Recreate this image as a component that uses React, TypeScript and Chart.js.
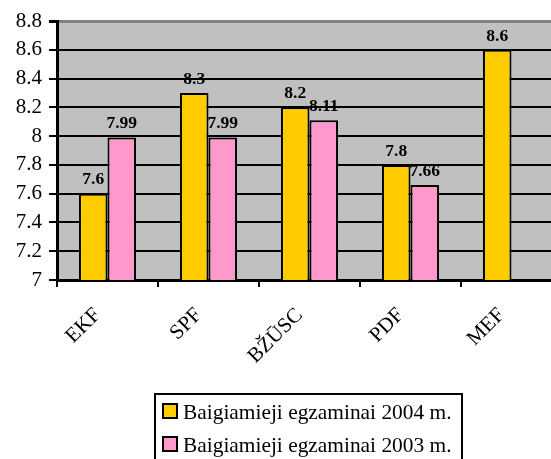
import React, { useEffect, useRef } from "react";
import { Chart, registerables } from "chart.js";

Chart.register(...registerables);

const categories = ["EKF", "SPF", "BŽŪSC", "PDF", "MEF"];
const series2004 = [7.6, 8.3, 8.2, 7.8, 8.6];
const series2003: (number | null)[] = [7.99, 7.99, 8.11, 7.66, null];
const label2004 = "Baigiamieji egzaminai 2004 m.";
const label2003 = "Baigiamieji egzaminai 2003 m.";
const yTicks = [7, 7.2, 7.4, 7.6, 7.8, 8, 8.2, 8.4, 8.6, 8.8];

const FONT = "'Liberation Serif', 'Times New Roman', serif";

const dataLabels = {
  id: "dataLabels",
  afterDatasetsDraw(chart: any) {
    const ctx = chart.ctx;
    ctx.save();
    ctx.font = `bold 17.5px ${FONT}`;
    ctx.fillStyle = "#000";
    ctx.textAlign = "center";
    ctx.textBaseline = "bottom";
    chart.data.datasets.forEach((ds: any, i: number) => {
      const meta = chart.getDatasetMeta(i);
      meta.data.forEach((bar: any, j: number) => {
        const v = ds.data[j];
        if (v === null || v === undefined) return;
        ctx.fillText(String(v), bar.x, bar.y - 5);
      });
    });
    ctx.restore();
  },
};

const boxLegend = {
  id: "boxLegend",
  afterDraw(chart: any) {
    const ctx = chart.ctx;
    ctx.save();
    ctx.strokeStyle = "#000";
    ctx.lineWidth = 2;
    ctx.strokeRect(155, 394, 307, 90);
    ctx.font = `21.4px ${FONT}`;
    ctx.textAlign = "left";
    ctx.textBaseline = "alphabetic";
    chart.data.datasets.forEach((ds: any, i: number) => {
      const y = 404 + i * 33;
      ctx.fillStyle = ds.backgroundColor;
      ctx.fillRect(163, y, 14, 14);
      ctx.strokeStyle = "#000";
      ctx.lineWidth = 2;
      ctx.strokeRect(163, y, 14, 14);
      ctx.fillStyle = "#000";
      ctx.fillText(ds.label, 183, y + 15);
    });
    ctx.restore();
  },
};

const plotBg = {
  id: "plotBg",
  beforeDraw(chart: any) {
    const { ctx, chartArea } = chart;
    ctx.save();
    ctx.fillStyle = "#c0c0c0";
    ctx.fillRect(chartArea.left, chartArea.top, chartArea.right - chartArea.left, chartArea.bottom - chartArea.top);
    ctx.restore();
  },
};

export default function App() {
  const ref = useRef<HTMLCanvasElement>(null);
  useEffect(() => {
    if (!ref.current) return;
    const chart = new Chart(ref.current, {
      type: "bar",
      data: {
        labels: categories,
        datasets: [
          {
            label: label2004,
            data: series2004,
            backgroundColor: "#ffcc00",
            borderColor: "#000",
            borderWidth: 2,
            categoryPercentage: 0.565,
            barPercentage: 1,
          },
          {
            label: label2003,
            data: series2003,
            backgroundColor: "#ff99cc",
            borderColor: "#000",
            borderWidth: 2,
            categoryPercentage: 0.565,
            barPercentage: 1,
          },
        ],
      },
      options: {
        animation: false,
        responsive: false,
        layout: { padding: { left: 0, top: 21, right: 38, bottom: 0 } },
        plugins: {
          legend: { display: false },
          tooltip: { enabled: false },
        },
        scales: {
          x: {
            offset: true,
            grid: {
              offset: true,
              drawOnChartArea: false,
              drawTicks: true,
              tickLength: 7,
              color: "#000",
              lineWidth: 2,
            },
            border: { color: "#000", width: 3 },
            ticks: {
              autoSkip: false,
              minRotation: 45,
              maxRotation: 45,
              color: "#000",
              padding: 16,
              labelOffset: -10,
              font: { family: FONT, size: 21 },
            },
            afterFit: (s: any) => {
              s.height = 179;
            },
          },
          y: {
            min: 7,
            max: 8.8,
            afterBuildTicks: (s: any) => {
              s.ticks = yTicks.map((v) => ({ value: v }));
            },
            grid: {
              color: (c: any) => (c.tick && Math.abs(c.tick.value - 8.8) < 1e-6 ? "#808080" : "#000"),
              lineWidth: (c: any) => (c.tick && Math.abs(c.tick.value - 8.8) < 1e-6 ? 3 : 2),
              tickColor: "#000",
              tickLength: 8,
            },
            border: { color: "#000", width: 3 },
            ticks: {
              color: "#000",
              padding: 7,
              font: { family: FONT, size: 21 },
              callback: (v: any) => String(Math.round(Number(v) * 10) / 10),
            },
            afterFit: (s: any) => {
              s.width = 57;
            },
          },
        },
      },
      plugins: [plotBg, dataLabels, boxLegend],
    });
    return () => chart.destroy();
  }, []);
  return (
    <div style={{ position: "fixed", left: 0, top: 0, width: 551, height: 459, overflow: "hidden", background: "#fff" }}>
      <canvas ref={ref} width={600} height={459} style={{ width: 600, height: 459, display: "block" }} />
    </div>
  );
}
